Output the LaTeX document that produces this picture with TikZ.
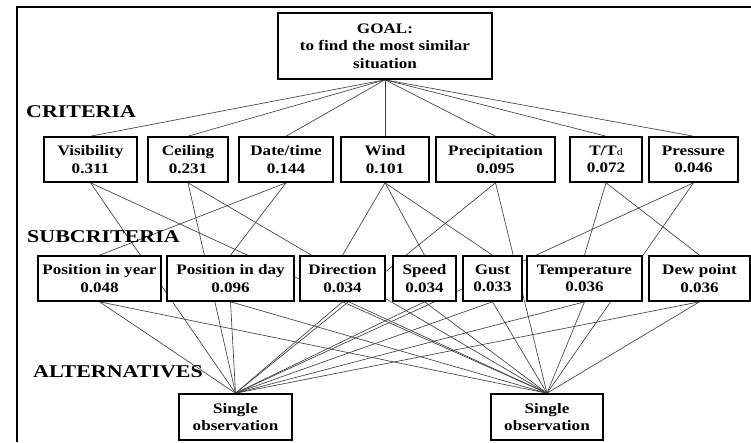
\documentclass[tikz,border=0pt]{standalone}
\usepackage{fontspec}
\setmainfont{Liberation Serif}[FakeStretch=1.18]
\newfontfamily\levelfont{Liberation Serif}[FakeStretch=1.22]
\usetikzlibrary{backgrounds}

\tikzset{
  box/.style={draw=black, line width=1.6pt, fill=white, inner sep=0pt,
    align=center, font=\fontsize{14.5}{17.5}\selectfont\bfseries},
  crit/.style={box, minimum height=45pt},
  link/.style={line width=0.65pt, draw=black!75},
  level/.style={anchor=base west, inner sep=0pt,
    font=\levelfont\fontsize{18}{18}\selectfont\bfseries},
  frame/.style={line width=2pt, draw=black},
}

\begin{document}
\begin{tikzpicture}[x=1pt, y=-1pt]
  \useasboundingbox (0,0) rectangle (751,442);

  % outer frame
  \coordinate (fbl) at (17,442);
  \coordinate (ftl) at (17,7);
  \coordinate (ftr) at (751,7);
  \draw[frame] (fbl) -- (ftl) -- (ftr);

  % goal
  \node[box, minimum width=214pt, minimum height=66pt] (goal) at (385,46)
    {GOAL:\\to find the most similar\\situation};

  % level titles
  \node[level] (lcrit) at (26,117) {CRITERIA};
  \node[level] (lsub)  at (27,242) {SUBCRITERIA};
  \node[level] (lalt)  at (33,377) {ALTERNATIVES};

  % criteria
  \node[crit, minimum width=93pt]  (vis)  at (90.5,159.5)  {Visibility\\0.311};
  \node[crit, minimum width=80pt]  (ceil) at (188,159.5)   {Ceiling\\0.231};
  \node[crit, minimum width=94pt]  (date) at (286,159.5)   {Date/time\\0.144};
  \node[crit, minimum width=88pt]  (wind) at (385,159.5)   {Wind\\0.101};
  \node[crit, minimum width=119pt] (prec) at (495.5,159.5) {Precipitation\\0.095};
  \node[crit, minimum width=72pt]  (ttd)  at (606,159.5)
    {T/T{\mdseries\fontsize{10}{10}\selectfont d}\\0.072};
  \node[crit, minimum width=89pt]  (pres) at (693.5,159.5) {Pressure\\0.046};

  % subcriteria
  \node[crit, minimum width=123pt] (posy)  at (99.5,278.5)  {Position in year\\0.048};
  \node[crit, minimum width=127pt] (posd)  at (230.5,278.5) {Position in day\\0.096};
  \node[crit, minimum width=85pt]  (dir)   at (342.5,278.5) {Direction\\0.034};
  \node[crit, minimum width=63pt]  (speed) at (424.5,278.5) {Speed\\0.034};
  \node[crit, minimum width=59pt]  (gust)  at (492.5,278.5) {Gust\\0.033};
  \node[crit, minimum width=115pt] (temp)  at (584.5,278.5) {Temperature\\0.036};
  \node[crit, minimum width=101pt] (dew)   at (699.5,278.5) {Dew point\\0.036};

  % alternatives
  \node[box, minimum width=113pt, minimum height=46pt] (alta) at (235.5,417)
    {Single\\observation};
  \node[box, minimum width=112pt, minimum height=46pt] (altb) at (547,417)
    {Single\\observation};

  % hierarchy links, behind the boxes
  \begin{scope}[on background layer]
    \foreach \c in {vis,ceil,date,wind,prec,ttd,pres}
      \draw[link] (goal.south) -- (\c.north);
    \foreach \s in {posy,posd}
      \draw[link] (date.south) -- (\s.north);
    \foreach \s in {dir,speed,gust}
      \draw[link] (wind.south) -- (\s.north);
    \foreach \s in {temp,dew}
      \draw[link] (ttd.south) -- (\s.north);
    \foreach \n in {vis,ceil,prec,pres,posy,posd,dir,speed,gust,temp,dew}{
      \draw[link] (\n.south) -- (alta.north);
      \draw[link] (\n.south) -- (altb.north);
    }
  \end{scope}
\end{tikzpicture}
\end{document}
